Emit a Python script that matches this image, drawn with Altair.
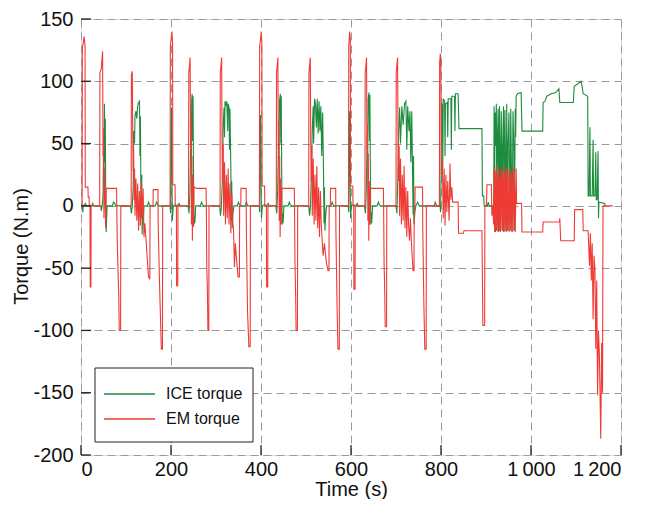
import altair as alt
import pandas as pd

# ---------------- data (time s, torque N.m) ----------------
ice_urban1 = [(0,0),(3,0),(4,-5),(5,0),(8,1),(10,2),(12,0),(24,0),(26,2),(28,0),(44,0),(45,-4),(47,0),(49,8),(50,45),(51,20),(52,82),(53,35),(54,70),(55,5),(56,-21),(57,-10),(58,0),(70,0),(72,3),(75,2),(77,0),(110,0),(112,-6),(114,0),(116,15),(117,60),(119,50),(120,72),(122,76),(124,70),(126,80),(128,83),(130,84),(131,40),(132,72),(133,20),(134,-10),(135,25),(136,-23),(137,-8),(138,-15),(140,0),(148,0),(150,3),(152,1),(156,0),(165,0),(168,3),(170,1),(172,0),(195,0)]
em_urban1 = [(0,0),(2.5,0),(3,126),(5,131),(7,136),(9,128),(9.5,15),(15.5,15),(16,7),(18,7),(18.5,0),(20,0),(20.5,-65),(22,-65),(22.5,0),(41.5,0),(42,107),(45,110),(48,124),(49,40),(50,62),(51,-10),(52,30),(53,15),(55,-18),(56,14),(79,14),(79.5,0),(80.5,-28),(82,-48),(84,-73),(85,-100),(88,-100),(88.5,0),(111.5,0),(112,105),(114,108),(115,58),(116,28),(117,45),(118,5),(119,30),(120,-8),(122,22),(124,-12),(126,18),(128,-20),(130,12),(132,-16),(134,20),(136,-10),(138,14),(140,-25),(142,-14),(145,-30),(150,-57),(153,-59),(153.5,0),(160,0),(160.5,13),(171,13),(171.5,-14),(174,-55),(177,-95),(178.5,-115),(181,-115),(181.5,0),(195,0)]

ice_urban2 = [(195,0),(198,0),(199,-6),(200,55),(201,79),(202,30),(203,-12),(205,0),(210,1),(214,0),(218,2),(220,0),(238,0),(240,-6),(242,10),(244,60),(245,40),(246,85),(247,90),(248,52),(249,88),(250,30),(251,-15),(252,-8),(253,-14),(255,0),(265,0),(268,3),(270,1),(273,0),(308,0),(310,-8),(312,0),(314,20),(316,65),(318,79),(319,55),(320,84),(322,80),(324,84),(326,60),(327,82),(329,79),(330,45),(331,78),(333,30),(334,-12),(335,20),(336,-18),(338,-5),(340,0),(347,0),(350,3),(352,1),(355,0),(365,0),(368,3),(370,0),(390,0)]
em_urban2 = [(195,0),(198,0),(198.5,128),(200,133),(202,140),(203.5,130),(204,17),(209,17),(209.5,0),(212,0),(212.5,-64),(215,-64),(215.5,0),(239,0),(239.5,107),(241,112),(242.5,119),(243.5,45),(244.5,70),(245.5,-15),(246.5,40),(247.5,-28),(248.5,25),(250,-17),(251,15),(258,14),(278,14),(278.5,0),(279.5,-49),(281,-70),(282,-100),(284,-100),(284.5,0),(309,0),(309.5,107),(311,112),(312.5,119),(313.5,55),(314.5,20),(316,50),(317,-8),(319,35),(321,-15),(323,25),(325,-10),(327,30),(329,-15),(331,18),(333,-22),(335,10),(337,-12),(339,-20),(341,-49),(343,-30),(346,-45),(349,-57),(352,-57),(352.5,0),(355,0),(355.5,14),(367,14),(367.5,-20),(370,-84),(373,-113),(376,-113),(376.5,0),(390,0)]

ice_urban3 = [(390,0),(396,0),(397,-5),(398,50),(399,73),(400,25),(401,-10),(403,0),(408,1),(412,0),(416,2),(418,0),(433,0),(435,-6),(437,12),(439,55),(440,38),(441,84),(443,90),(444,50),(445,88),(446,28),(447,-15),(448,-6),(449,-14),(451,0),(460,0),(463,3),(465,1),(468,0),(506,0),(508,-8),(510,0),(512,25),(514,62),(516,80),(517,50),(519,86),(521,82),(523,63),(525,86),(527,58),(529,84),(531,60),(533,80),(535,40),(537,75),(539,25),(540,-14),(541,15),(542,-20),(544,-6),(546,0),(555,0),(558,3),(560,1),(562,0),(585,0)]
em_urban3 = [(390,0),(396.5,0),(397,128),(399,134),(400.5,140),(402,130),(402.5,16),(408,16),(408.5,0),(412,0),(412.5,-65),(415,-65),(415.5,0),(434,0),(434.5,107),(436,112),(437.5,119),(438.5,45),(439.5,68),(440.5,-12),(441.5,40),(442.5,-25),(443.5,22),(445,-15),(446,14),(474,14),(474.5,0),(475.5,-45),(477,-72),(478,-100),(481,-100),(481.5,0),(506,0),(506.5,107),(508,113),(509.5,119),(510.5,55),(511.5,20),(513,48),(514,-8),(516,38),(518,-15),(520,25),(522,-12),(524,32),(526,-18),(528,15),(530,-25),(532,12),(534,-15),(536,-28),(538,-40),(541,-30),(545,-45),(549,-52),(551,-52),(551.5,0),(554,0),(554.5,14),(566,14),(566.5,-20),(569,-80),(571,-115),(574,-115),(574.5,0),(585,0)]

ice_urban4 = [(585,0),(594,0),(595,-5),(596,55),(597,76),(598,25),(599,-10),(601,0),(606,1),(610,0),(614,2),(616,0),(630,0),(632,-6),(634,12),(636,58),(637,40),(638,86),(640,91),(641,52),(642,89),(643,30),(644,-15),(645,-5),(646,-14),(648,0),(658,0),(661,3),(663,1),(666,0),(700,0),(702,-6),(704,20),(706,60),(708,79),(710,50),(713,80),(716,65),(719,82),(722,84),(724,45),(726,80),(729,60),(731,76),(733,35),(735,76),(737,20),(738,-7),(739,40),(740,-15),(742,-5),(744,0),(748,3),(750,1),(752,0),(780,0)]
em_urban4 = [(585,0),(594.5,0),(595,128),(597,140),(598.5,134),(599,16),(604,16),(604.5,0),(606,0),(606.5,-67),(609,-67),(609.5,0),(631,0),(631.5,107),(633,112),(634.5,119),(635.5,45),(636.5,66),(637.5,-12),(638.5,42),(639.5,-28),(640.5,20),(642,-15),(643,14),(672,14),(672.5,0),(673.5,-45),(675,-70),(676,-97),(679,-97),(679.5,0),(700,0),(700.5,107),(702,113),(703.5,119),(704.5,55),(705.5,20),(707,48),(708,-8),(710,38),(712,-15),(714,25),(716,-12),(718,32),(720,-18),(722,15),(724,-25),(726,12),(728,-15),(730,-28),(732,-10),(735,-35),(738,-52),(740,-52),(740.5,0),(742,0),(742.5,15),(759,15),(759.5,-20),(762,-80),(764,-115),(767,-115),(767.5,0),(780,0)]

ice_extra = [(780,0),(785,0),(787,3),(789,1),(791,0),(798,0),(799,-5),(800,20),(801,83),(803,80),(804,30),(805,86),(808,84),(809,40),(810,82),(814,83),(815,55),(816,86),(822,86),(823,45),(824,88),(830,88),(831,60),(832,90),(838,90),(840,62),(891,62),(892,8),(895,8),(896,0),(903,0),(905,3),(907,0),(917,0),(918,80),(919,-20),(920,75),(921,48),(923,82),(924,-20),(925,48),(927,78),(928,-21),(930,80),(931,48),(932,-20),(934,76),(936,-20),(937,47),(939,80),(940,-21),(942,77),(943,48),(945,-20),(946,82),(948,-20),(949,48),(951,75),(953,-20),(955,78),(956,47),(958,-21),(960,76),(962,48),(963,-20),(965,78),(966,55),(967,88),(970,90),(978,91),(980,60),(1026,60),(1027,83),(1031,84),(1035,88),(1045,90),(1055,91),(1062,94),(1064,83),(1094,83),(1096,96),(1104,98),(1111,100),(1113,97),(1116,90),(1126,88),(1127,8),(1129,8),(1131,63),(1132,8),(1136,8),(1138,53),(1139,8),(1142,8),(1144,43),(1145,5),(1147,5),(1149,44),(1150,-10),(1151,3),(1164,2),(1165,0)]
em_extra = [(780,0),(796.5,0),(797,115),(798.5,122),(799.5,119),(800.5,60),(801.5,25),(803,37),(805,-10),(807,30),(809,-16),(811,25),(813,-5),(815,20),(818,-12),(820,34),(822,5),(824,15),(826,3),(838,3),(839,-22),(850,-22),(851,-20),(891,-20),(892,-55),(893,-96),(897,-96),(897.5,0),(901,0),(902,17),(912,17),(913,-8),(915,0),(917,-15),(918,30),(919,-21),(920,28),(921,-21),(923,32),(924,-20),(925,26),(927,-21),(928,30),(930,-20),(931,23),(932,-21),(934,30),(936,-20),(937,28),(939,-21),(940,32),(942,-20),(943,26),(945,-21),(946,30),(948,-20),(949,28),(951,-21),(953,30),(955,-20),(956,26),(958,-21),(960,30),(962,-20),(963,28),(965,-21),(967,30),(968,2),(979,2),(980,-21),(1026,-21),(1027,-13),(1063,-13),(1064,-10),(1066,-28),(1096,-28),(1097,-3),(1115,-3),(1116,-20),(1127,-20),(1130,-48),(1132,-22),(1134,-60),(1136,-30),(1138,-91),(1140,-40),(1142,-50),(1144,-115),(1146,-60),(1148,-152),(1150,-100),(1152,-120),(1155,-187),(1157,-110),(1159,-150),(1160,0),(1182,0)]

series_names = ["ICE torque", "EM torque"]
series_colors = ["#1e8c3e", "#ef3b36"]
x_ticks = [0, 200, 400, 600, 800, 1000, 1200]
y_ticks = [-200, -150, -100, -50, 0, 50, 100, 150]

# ---------------- build tables ----------------
def to_df(points, name):
    df = pd.DataFrame(points, columns=["time", "torque"])
    df["series"] = name
    df["idx"] = range(len(df))
    return df

ice_df = to_df(ice_urban1 + ice_urban2 + ice_urban3 + ice_urban4 + ice_extra, series_names[0])
em_df = to_df(em_urban1 + em_urban2 + em_urban3 + em_urban4 + em_extra, series_names[1])

W, H = 540, 436
FONT = "Liberation Sans"

x_scale = alt.Scale(domain=[0, 1200], nice=False, zero=False)
y_scale = alt.Scale(domain=[-200, 150], nice=False, zero=False)

x_axis = alt.Axis(values=x_ticks, title="Time (s)", grid=True, gridDash=[8, 5],
                  gridColor="#9a9a9a", gridWidth=1, ticks=False, tickSize=0, domain=False,
                  labelFont=FONT, labelFontSize=20, labelColor="#111", labelPadding=4,
                  labelExpr="datum.value == 1000 ? '1\u2009000' : datum.value == 1200 ? '1\u2009200' : '' + datum.value",
                  titleFont=FONT, titleFontSize=20, titleFontWeight="normal", titleColor="#111",
                  titleY=40, titleBaseline="alphabetic")
y_axis = alt.Axis(values=y_ticks, title="Torque (N.m)", grid=True, gridDash=[8, 5],
                  gridColor="#9a9a9a", gridWidth=1, ticks=False, tickSize=0, domain=False,
                  labelFont=FONT, labelFontSize=20, labelColor="#111", labelPadding=8,
                  labelExpr="'' + datum.value",
                  titleFont=FONT, titleFontSize=20, titleFontWeight="normal", titleColor="#111",
                  titleAngle=270, titleX=-54, titleY=227, titleBaseline="alphabetic", titleAlign="center")

ice_line = alt.Chart(ice_df).mark_line(color=series_colors[0], strokeWidth=1.1, clip=True).encode(
    x=alt.X("time:Q", scale=x_scale, axis=x_axis),
    y=alt.Y("torque:Q", scale=y_scale, axis=y_axis),
    order="idx:Q",
)
em_line = alt.Chart(em_df).mark_line(color=series_colors[1], strokeWidth=1.1, clip=True).encode(
    x=alt.X("time:Q", scale=x_scale),
    y=alt.Y("torque:Q", scale=y_scale),
    order="idx:Q",
)

# inward ticks
ytick_df = pd.DataFrame({"torque": y_ticks})
xtick_df = pd.DataFrame({"time": x_ticks})
y_tick_marks = alt.Chart(ytick_df).mark_rule(color="#222", strokeWidth=1.3).encode(
    y=alt.Y("torque:Q", scale=y_scale), x=alt.value(0), x2=alt.value(10))
x_tick_marks = alt.Chart(xtick_df).mark_rule(color="#222", strokeWidth=1.3).encode(
    x=alt.X("time:Q", scale=x_scale), y=alt.value(H), y2=alt.value(H - 10))

# legend (manual, to get long line samples)
one = alt.Data(values=[{}])
legend_box = alt.Chart(one).mark_rect(fill="white", stroke="#222", strokeWidth=1).encode(
    x=alt.value(14), x2=alt.value(172), y=alt.value(349), y2=alt.value(423))
legend_layers = [legend_box]
for i, (name, col) in enumerate(zip(series_names, series_colors)):
    ly = 375 + 25 * i
    legend_layers.append(alt.Chart(one).mark_rule(color=col, strokeWidth=1.3).encode(
        x=alt.value(23), x2=alt.value(74), y=alt.value(ly)))
    legend_layers.append(alt.Chart(one).mark_text(text=name, font=FONT, fontSize=16, color="#111",
                                                  align="left", baseline="middle").encode(
        x=alt.value(85), y=alt.value(ly)))

chart = alt.layer(ice_line, em_line, y_tick_marks, x_tick_marks, *legend_layers).properties(
    width=W, height=H,
    autosize=alt.AutoSizeParams(type="none"),
    padding={"left": 73, "top": 11, "right": 19, "bottom": 44},
).configure_view(stroke="#222", strokeWidth=1.2).configure(background="white")

chart.save("out.html", embed_options={"renderer": "svg", "actions": False})
